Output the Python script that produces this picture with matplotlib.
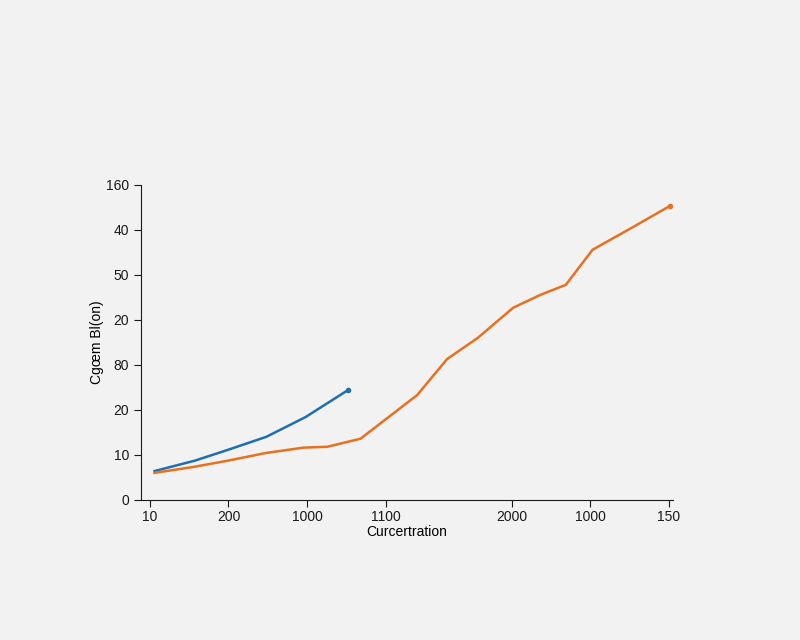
import numpy as np
import matplotlib.pyplot as plt

plt.rcParams['font.family'] = ['Liberation Sans', 'DejaVu Sans']

# tick positions / labels as printed on the chart
x_ticks = [0, 1, 2, 3, 4.6, 5.6, 6.6]
x_labels = ['10', '200', '1000', '1100', '2000', '1000', '150']
y_ticks = [0, 1, 2, 3, 4, 5, 6, 7]
y_labels = ['0', '10', '20', '80', '20', '50', '40', '160']

# series (in tick units)
blue_x = [0.06, 0.57, 0.99, 1.48, 1.98, 2.52]
blue_y = [0.64, 0.87, 1.11, 1.40, 1.84, 2.44]

orange_x = [0.06, 0.55, 0.99, 1.47, 1.95, 2.26, 2.68, 3.40, 3.78, 4.17, 4.62,
            4.97, 5.29, 5.63, 6.12, 6.61]
orange_y = [0.60, 0.73, 0.87, 1.04, 1.16, 1.18, 1.36, 2.33, 3.13, 3.60, 4.27,
            4.56, 4.78, 5.56, 6.04, 6.53]

bg = '#f2f2f2'
fig = plt.figure(figsize=(8, 6.4), dpi=100, facecolor=bg)
ax = fig.add_axes([0.176, 0.219, 0.665, 0.492], facecolor=bg)

ax.plot(blue_x, blue_y, color='#1f6fb0', lw=1.8)
ax.plot(blue_x[-1], blue_y[-1], 'o', color='#1f6fb0', ms=3)
ax.plot(orange_x, orange_y, color='#e8701e', lw=1.8)
ax.plot(orange_x[-1], orange_y[-1], 'o', color='#e8701e', ms=3)

ax.set_xlim(-0.115, 6.65)
ax.set_ylim(0, 7)
ax.set_xticks(x_ticks)
ax.set_xticklabels(x_labels)
ax.set_yticks(y_ticks)
ax.set_yticklabels(y_labels)
ax.tick_params(labelsize=10, length=5, colors='#1a1a1a')
ax.tick_params(axis='x', pad=2)

for s in ['top', 'right']:
    ax.spines[s].set_visible(False)
for s in ['left', 'bottom']:
    ax.spines[s].set_color('#1a1a1a')

ax.set_xlabel('Curcertration', fontsize=10, labelpad=1)
ax.set_ylabel('Cgœm Bl(on)', fontsize=10, labelpad=1)

fig.savefig('out.png', facecolor=bg)
